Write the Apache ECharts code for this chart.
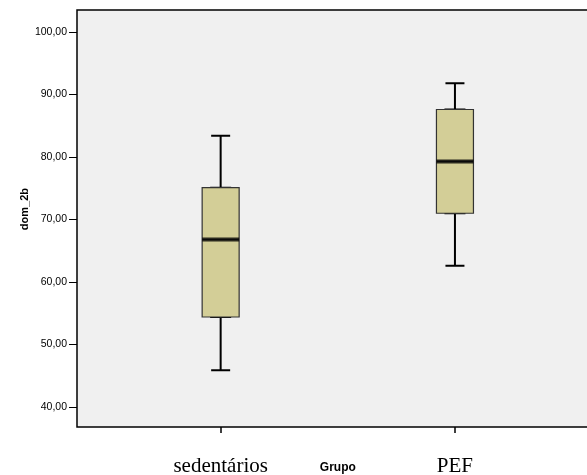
<!DOCTYPE html>
<html>
<head>
<meta charset="utf-8">
<script src="https://cdn.jsdelivr.net/npm/echarts@6/dist/echarts.min.js"></script>
<style>
  html, body { margin: 0; padding: 0; background: #fff; }
  #chart { width: 587px; height: 475px; }
</style>
</head>
<body>
<div id="chart"></div>
<script>
// groups and box stats [min, Q1, median, Q3, max]
const groups = ['sedentários', 'PEF']
const boxStats = [
  [45.9, 54.4, 66.8, 75.1, 83.4],
  [62.6, 71.0, 79.3, 87.6, 91.8]
]
const medians = boxStats.map(d => d[2])
const yTicks = [40, 50, 60, 70, 80, 90, 100]

const yMin = 36.8, yMax = 103.52
const fmt = v => v.toFixed(2).replace('.', ',')

// boxes only (whiskers collapsed onto the box edges)
const boxBodies = boxStats.map(d => [d[1], d[1], d[2], d[3], d[3]])

const chart = echarts.init(document.getElementById('chart'))

const dataGrid = { left: 103.5, top: 10, width: 468.6, height: 417, outerBoundsMode: 'none' }
const hiddenY = gi => ({ gridIndex: gi, type: 'value', min: yMin, max: yMax, show: false, splitLine: { show: false } })

chart.setOption({
  animation: false,
  grid: [
    // frame + y labels
    { left: 77, top: 10, right: -30, height: 417, show: true, outerBoundsMode: 'none',
      backgroundColor: '#f0f0f0', borderColor: '#000', borderWidth: 1.5 },
    // whiskers, categories centred like SPSS
    dataGrid,
    // box bodies on top
    Object.assign({}, dataGrid)
  ],
  xAxis: [
    { gridIndex: 0, type: 'value', show: false, min: 0, max: 1 },
    {
      gridIndex: 1, type: 'category', data: groups,
      axisLine: { show: false },
      axisTick: { show: true, alignWithLabel: true, length: 6, lineStyle: { color: '#000', width: 1.5 } },
      axisLabel: { margin: 29, fontFamily: 'Liberation Serif', fontSize: 21, color: '#000' },
      name: 'Grupo', nameLocation: 'middle', nameGap: 35, nameMoveOverlap: false,
      nameTextStyle: { fontFamily: 'Liberation Sans', fontWeight: 'bold', fontSize: 12, color: '#000' }
    },
    { gridIndex: 2, type: 'category', data: groups, show: false }
  ],
  yAxis: [
    {
      gridIndex: 0, type: 'value', min: yMin, max: yMax,
      axisLine: { show: false },
      splitLine: { show: false },
      axisTick: { show: true, length: 8, customValues: yTicks, lineStyle: { color: '#000', width: 1 } },
      axisLabel: { customValues: yTicks, formatter: fmt, margin: 10,
        fontFamily: 'Liberation Sans', fontSize: 10.5, color: '#000' }
    },
    hiddenY(1),
    hiddenY(2)
  ],
  graphic: [{
    type: 'text', left: 19, top: 188, rotation: Math.PI / 2,
    style: { text: 'dom_2b', font: 'bold 11px "Liberation Sans"', fill: '#000' }
  }],
  series: [
    {
      type: 'boxplot', xAxisIndex: 1, yAxisIndex: 1,
      data: boxStats,
      boxWidth: [19, 19],
      itemStyle: { color: '#d3ce97', borderColor: '#000', borderWidth: 2 }
    },
    {
      type: 'boxplot', xAxisIndex: 2, yAxisIndex: 2,
      data: boxBodies,
      boxWidth: [37, 37], z: 4,
      itemStyle: { color: '#d3ce97', borderColor: '#333', borderWidth: 1.2 }
    },
    {
      type: 'scatter', xAxisIndex: 2, yAxisIndex: 2,
      data: medians, symbol: 'rect', symbolSize: [37, 4],
      itemStyle: { color: '#000' }, z: 5
    }
  ]
})
</script>
</body>
</html>
